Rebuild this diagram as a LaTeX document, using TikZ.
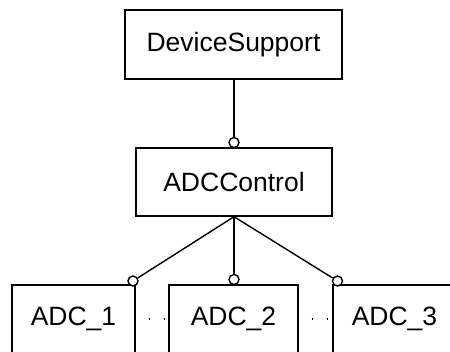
\documentclass[tikz,border=0pt]{standalone}
\usepackage{fontspec}
\setmainfont{Liberation Sans}
\begin{document}
\begin{tikzpicture}[x=1pt,y=-1pt,
  box/.style={draw,line width=1.4pt,inner sep=0pt,font=\fontsize{26.5}{30}\selectfont},
  port/.style={circle,draw,fill=white,line width=1.4pt,minimum size=10pt,inner sep=0pt},
  link/.style={line width=1.4pt},
  gap/.style={line width=1.3pt,dash pattern=on 1.3pt off 14pt,dash phase=-13pt}]
\useasboundingbox (0,0) rectangle (450,351);
\clip (0,0) rectangle (450,351);
\node[box,minimum width=217pt,minimum height=69pt] (ds) at (233.5,44.5) {DeviceSupport};
\node[box,minimum width=196pt,minimum height=68pt] (ctl) at (234,182) {ADCControl};
\node[box,minimum width=123pt,minimum height=68pt] (a1) at (73.5,319) {ADC\_1};
\node[box,minimum width=129pt,minimum height=68pt] (a2) at (233.5,319) {ADC\_2};
\node[box,minimum width=123pt,minimum height=68pt] (a3) at (394.5,319) {ADC\_3};
\node[port] (pc) at (234,142.5) {};
\node[port] (p1) at (133,281) {};
\node[port] (p2) at (234,279.5) {};
\node[port] (p3) at (337.5,281) {};
\draw[link] (ds.south -| pc) -- (pc);
\draw[link] (ctl.south) -- (p1);
\draw[link] (ctl.south) -- (p2);
\draw[link] (ctl.south) -- (p3);
\draw[gap] (a1.east) -- (a2.west);
\draw[gap] (a2.east) -- (a3.west);
\end{tikzpicture}
\end{document}
